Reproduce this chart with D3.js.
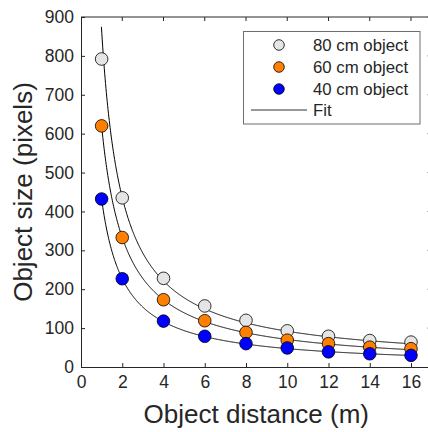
<!DOCTYPE html>
<html><head><meta charset="utf-8">
<script src="https://cdn.jsdelivr.net/npm/d3@7"></script>
<style>body{margin:0;background:#fff}svg{display:block}text{font-family:"Liberation Sans",Arial,sans-serif;fill:#262626}</style>
</head><body>
<svg id="c" width="428" height="432"></svg>
<script>
const distances = [1, 2, 4, 6, 8, 10, 12, 14, 16];
const size80 = [792, 435, 228, 157, 120, 93, 79, 68, 64];
const size60 = [620, 333, 173, 119, 89, 69, 60, 51, 47];
const size40 = [432, 227, 118, 79, 60, 49, 39, 34, 30];
const seriesNames = ["80 cm object", "60 cm object", "40 cm object"];
const seriesColors = ["#e5e5e5", "#ff8000", "#0000ff"];
// fit: y = a/(x+b) + c, drawn from xStart to 16
const fitA = [860, 719, 478];
const fitB = [0, 0.16, 0.107];
const fitC = [6, 0, 0];
const fitStart = [0.99, 1, 1];
const xTicks = [0, 2, 4, 6, 8, 10, 12, 14, 16];
const yTicks = [0, 100, 200, 300, 400, 500, 600, 700, 800, 900];

const svg = d3.select("#c");
const x = d3.scaleLinear().domain([0, 17]).range([81, 81 + 330 * 17 / 16]);
const y = d3.scaleLinear().domain([0, 900]).range([367, 17]);
const axisColor = "#262626";

const g = svg.append("g");
// box
g.append("line").attr("x1", x(0)).attr("x2", x(17)).attr("y1", y(900)).attr("y2", y(900)).attr("stroke", axisColor);
g.append("line").attr("x1", x(17)).attr("x2", x(17)).attr("y1", y(0)).attr("y2", y(900)).attr("stroke", axisColor);

const xAxis = g.append("g").attr("transform", `translate(0,${y(0)})`)
  .call(d3.axisBottom(x).tickValues(xTicks).tickSizeInner(-4).tickSizeOuter(0).tickPadding(9));
const yAxis = g.append("g").attr("transform", `translate(${x(0)},0)`)
  .call(d3.axisLeft(y).tickValues(yTicks).tickSizeInner(-4).tickSizeOuter(0).tickPadding(7));
[xAxis, yAxis].forEach(a => {
  a.select(".domain").attr("stroke", axisColor);
  a.selectAll(".tick line").attr("stroke", axisColor);
  a.selectAll("text").style("font-size", "17.5px").attr("fill", axisColor);
});
// top and right ticks
g.append("g").selectAll("line").data(xTicks.slice(1)).join("line")
  .attr("x1", d => x(d)).attr("x2", d => x(d)).attr("y1", y(900)).attr("y2", y(900) + 4).attr("stroke", axisColor);
g.append("g").selectAll("line").data(yTicks.slice(1)).join("line")
  .attr("x1", x(17)).attr("x2", x(17) - 4).attr("y1", d => y(d)).attr("y2", d => y(d)).attr("stroke", axisColor);

// labels
svg.append("text").attr("x", x(8.5)).attr("y", 423).attr("text-anchor", "middle")
  .style("font-size", "26px").text("Object distance (m)");
svg.append("text").attr("transform", `translate(32,${y(450)}) rotate(-90)`).attr("text-anchor", "middle")
  .style("font-size", "26px").text("Object size (pixels)");

// fits
const data = [size80, size60, size40];
const line = d3.line().x(d => x(d[0])).y(d => y(d[1])).curve(d3.curveLinear);
data.forEach((s, i) => {
  const pts = d3.range(fitStart[i], 16.0001, 0.02).map(t => [t, fitA[i] / (t + fitB[i]) + fitC[i]]);
  g.append("path").attr("d", line(pts)).attr("fill", "none").attr("stroke", "#000").attr("stroke-width", 1);
});
// points
data.forEach((s, i) => {
  g.append("g").selectAll("circle").data(distances).join("circle")
    .attr("cx", d => x(d)).attr("cy", (d, j) => y(s[j])).attr("r", 6.3)
    .attr("fill", seriesColors[i]).attr("stroke", "#000").attr("stroke-width", 0.8);
});

// legend
const lg = svg.append("g");
lg.append("rect").attr("x", 243.5).attr("y", 31.5).attr("width", 176.5).attr("height", 92.5)
  .attr("fill", "#fff").attr("stroke", "#6e6e6e").attr("stroke-width", 1);
const rowY = [45, 67, 89, 110];
seriesNames.forEach((n, i) => {
  lg.append("circle").attr("cx", 279).attr("cy", rowY[i]).attr("r", 5.3)
    .attr("fill", seriesColors[i]).attr("stroke", "#000").attr("stroke-width", 0.8);
  lg.append("text").attr("x", 313).attr("y", rowY[i] + 6).style("font-size", "16.8px").text(n);
});
lg.append("line").attr("x1", 251).attr("x2", 307).attr("y1", rowY[3]).attr("y2", rowY[3]).attr("stroke", "#333");
lg.append("text").attr("x", 313).attr("y", rowY[3] + 6).style("font-size", "16.8px").text("Fit");
</script>
</body></html>
